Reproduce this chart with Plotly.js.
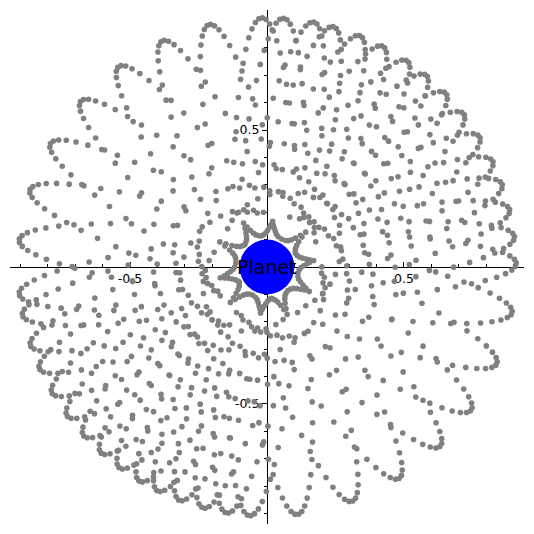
<!DOCTYPE html>
<html>
<head>
<meta charset="utf-8">
<script src="https://cdn.plot.ly/plotly-3.0.1.min.js"></script>
<style>html,body{margin:0;padding:0;background:#fff;}#chart{width:534px;height:534px;}</style>
</head>
<body>
<div id="chart"></div>
<script>
// Tip angle (deg) of each outward pass of the orbit, in time order
const tipAngle = [7.0,191.1,19.4,204.1,31.5,216.7,44.2,228.3,55.8,239.2,68.1,249.5,79.2,260.7,91.2,277.0,
  103.4,290.0,114.8,302.0,126.5,314.0,138.3,325.0,150.3,337.2,162.0,349.5,173.8,0.8,186.2,13.3,198.3,25.1,
  210.4,37.9,222.7,50.3,233.7,62.3,244.0,74.5,255.2,86.2,266.0];
// which dot pattern (sampling phase) each pass carries
const passPhase = [0,3,5,2,4,1,3,0,2,5,1,4,0,3,5,2,4,1,3,0,2,5,1,4,0,3,5,2,4,1,3,0,2,5,1,4,0,3,5,2,4,1,3,0,2];

// dots of one pass relative to its tip: distance from planet, angle offset (deg)
const passR0 = [.2253,.3053,.3874,.4677,.5444,.6160,.6814,.7399,.7906,.8329,.8663,.8905,.9051,.910,.9051,.8905,.8663,.8329,.7906,.7399,.6814,.6160,.5444,.4677,.3874,.3053,.2253];
const passT0 = [-32.87,-22.92,-17.15,-13.38,-10.71,-8.67,-7.05,-5.70,-4.53,-3.50,-2.56,-1.67,-0.83,0,0.83,1.67,2.56,3.50,4.53,5.70,7.05,8.67,10.71,13.38,17.15,22.92,32.87];
const passR1 = [.2382,.3190,.4009,.4808,.5567,.6273,.6917,.7489,.7982,.8391,.8710,.8936,.9066,.9099,.9034,.8871,.8614,.8264,.7827,.7306,.6710,.6044,.5319,.4545,.3737,.2917,.2126];
const passT1 = [-30.75,-21.75,-16.41,-12.88,-10.33,-8.38,-6.81,-5.49,-4.35,-3.34,-2.40,-1.53,-0.69,0.14,0.97,1.82,2.71,3.67,4.72,5.91,7.30,8.98,11.10,13.92,17.93,24.19,35.25];
const passR2 = [.2514,.3327,.4144,.4937,.5688,.6385,.7017,.7577,.8056,.8450,.8754,.8964,.9078,.9095,.9013,.8835,.8562,.8197,.7746,.7212,.6603,.5927,.5193,.4412,.3601,.2781,.2003];
const passT2 = [-28.85,-20.68,-15.73,-12.40,-9.97,-8.10,-6.58,-5.29,-4.18,-3.18,-2.26,-1.39,-0.55,0.28,1.11,1.96,2.86,3.83,4.91,6.13,7.56,9.30,11.51,14.49,18.78,25.60,37.92];
const passR3 = [.2647,.3464,.4279,.5066,.5809,.6495,.7116,.7662,.8128,.8507,.8796,.8990,.9088,.9088,.8990,.8796,.8507,.8128,.7662,.7116,.6495,.5809,.5066,.4279,.3464,.2647];
const passT3 = [-27.14,-19.69,-15.09,-11.94,-9.63,-7.82,-6.35,-5.10,-4.00,-3.02,-2.11,-1.25,-0.41,0.41,1.25,2.11,3.02,4.00,5.10,6.35,7.82,9.63,11.94,15.09,19.69,27.14];
const passR4 = [.2003,.2781,.3601,.4412,.5193,.5927,.6603,.7212,.7746,.8197,.8562,.8835,.9013,.9095,.9078,.8964,.8754,.8450,.8056,.7577,.7017,.6385,.5688,.4937,.4144,.3327,.2514];
const passT4 = [-37.92,-25.60,-18.78,-14.49,-11.51,-9.30,-7.56,-6.13,-4.91,-3.83,-2.86,-1.96,-1.11,-0.28,0.55,1.39,2.26,3.18,4.18,5.29,6.58,8.10,9.97,12.40,15.73,20.68,28.85];
const passR5 = [.2126,.2917,.3737,.4545,.5319,.6044,.6710,.7306,.7827,.8264,.8614,.8871,.9034,.9099,.9066,.8936,.8710,.8391,.7982,.7489,.6917,.6273,.5567,.4808,.4009,.3190,.2382];
const passT5 = [-35.25,-24.19,-17.93,-13.92,-11.10,-8.98,-7.30,-5.91,-4.72,-3.67,-2.71,-1.82,-0.97,-0.14,0.69,1.53,2.40,3.34,4.35,5.49,6.81,8.38,10.33,12.88,16.41,21.75,30.75];

// jagged star-shaped ring of dots just outside the planet
const starR = [
 .118,.124,.134,.146,.157,.172,.157,.146,.134,.124,.118,.115,
 .118,.124,.134,.148,.168,.190,.168,.148,.134,.124,.118,.115,
 .118,.124,.134,.145,.155,.168,.155,.145,.134,.124,.118,.115,
 .118,.124,.134,.147,.163,.182,.163,.147,.134,.124,.118,.115,
 .118,.124,.135,.150,.172,.195,.172,.150,.135,.124,.118,.115,
 .118,.124,.134,.146,.159,.175,.159,.146,.134,.124,.118,.115,
 .118,.124,.134,.148,.166,.186,.166,.148,.134,.124,.118,.115,
 .118,.124,.134,.145,.156,.170,.156,.145,.134,.124,.118,.115,
 .118,.124,.134,.148,.167,.188,.167,.148,.134,.124,.118,.115,
 .118,.124,.134,.147,.161,.178,.161,.147,.134,.124,.118,.115];
const starTheta = [
 -5,-1,2,4.5,6.5,8,9.5,11.5,14,17,21,25,
 29,33,36,38.5,40.5,42,43.5,45.5,48,51,55,62.5,
 70,74,77,79.5,81.5,83,84.5,86.5,89,92,96,100.5,
 105,109,112,114.5,116.5,118,119.5,121.5,124,127,131,135,
 139,143,146,148.5,150.5,152,153.5,155.5,158,161,165,172.5,
 180,184,187,189.5,191.5,193,194.5,196.5,199,202,206,208.5,
 211,215,218,220.5,222.5,224,225.5,227.5,230,233,237,243,
 249,253,256,258.5,260.5,262,263.5,265.5,268,271,275,277.5,
 280,284,287,289.5,291.5,293,294.5,296.5,299,302,306,311.5,
 317,321,324,326.5,328.5,330,331.5,333.5,336,339,343,349];

const planetRadius = 0.1;
const planetLabel = 'Planet';
const tickVals = [-0.5, 0.5];
const tickText = ['-0.5', '0.5'];
const R = 0.938;

const patterns = [
  {r:passR0,t:passT0},{r:passR1,t:passT1},{r:passR2,t:passT2},
  {r:passR3,t:passT3},{r:passR4,t:passT4},{r:passR5,t:passT5}];

const font = 'DejaVu Sans, Arial, sans-serif';
const dot = {color:'#808080', size:5.6, line:{width:0}};
const traces = [{type:'scatter', x:[], y:[], xaxis:'x', yaxis:'y', hoverinfo:'skip', showlegend:false}];
const axisCommon = {
  range:[-R,R], anchor:'free', position:0.5, showline:true, linecolor:'black', linewidth:1.1,
  showgrid:false, zeroline:false, tickmode:'array', tickvals:tickVals, ticktext:tickText,
  ticklen:5, tickwidth:1, tickcolor:'black', fixedrange:true,
  tickfont:{family:font, size:12.5, color:'black'},
  minor:{tickmode:'linear', tick0:0, dtick:0.1, ticklen:3, tickwidth:1, tickcolor:'black', showgrid:false}
};
const layout = {
  width:534, height:534, margin:{l:10,r:10,t:10,b:10},
  paper_bgcolor:'white', plot_bgcolor:'white', showlegend:false, hovermode:false,
  xaxis:Object.assign({}, axisCommon, {ticks:'inside', minor:Object.assign({}, axisCommon.minor, {ticks:'inside'})}),
  yaxis:Object.assign({}, axisCommon, {ticks:'outside', minor:Object.assign({}, axisCommon.minor, {ticks:'outside'})}),
  shapes:[{type:'circle', xref:'x', yref:'y', x0:-planetRadius, x1:planetRadius, y0:-planetRadius, y1:planetRadius,
    fillcolor:'#0000ff', line:{width:0}, layer:'above'}],
  annotations:[{x:0, y:0, xref:'x', yref:'y', text:planetLabel, showarrow:false,
    font:{family:font, size:19, color:'black'}, xanchor:'center', yanchor:'middle'}]
};

function polarLayout(rot) {
  return {
    domain:{x:[0,1], y:[0,1]}, bgcolor:'rgba(0,0,0,0)', hole:0,
    radialaxis:{visible:false, range:[0,R], showgrid:false, showline:false, showticklabels:false, ticks:''},
    angularaxis:{visible:false, rotation:rot, direction:'counterclockwise', showgrid:false, showline:false, showticklabels:false, ticks:''}
  };
}

tipAngle.forEach((phi, i) => {
  const id = i === 0 ? 'polar' : 'polar' + (i + 1);
  const p = patterns[passPhase[i]];
  traces.push({type:'scatterpolar', subplot:id, r:p.r, theta:p.t, mode:'markers',
    marker:dot, hoverinfo:'skip', showlegend:false});
  layout[id] = polarLayout(phi);
});
const starId = 'polar' + (tipAngle.length + 1);
traces.push({type:'scatterpolar', subplot:starId, r:starR, theta:starTheta, mode:'markers',
  marker:dot, hoverinfo:'skip', showlegend:false});
layout[starId] = polarLayout(0);

Plotly.newPlot('chart', traces, layout, {staticPlot:true, displayModeBar:false});
</script>
</body>
</html>
